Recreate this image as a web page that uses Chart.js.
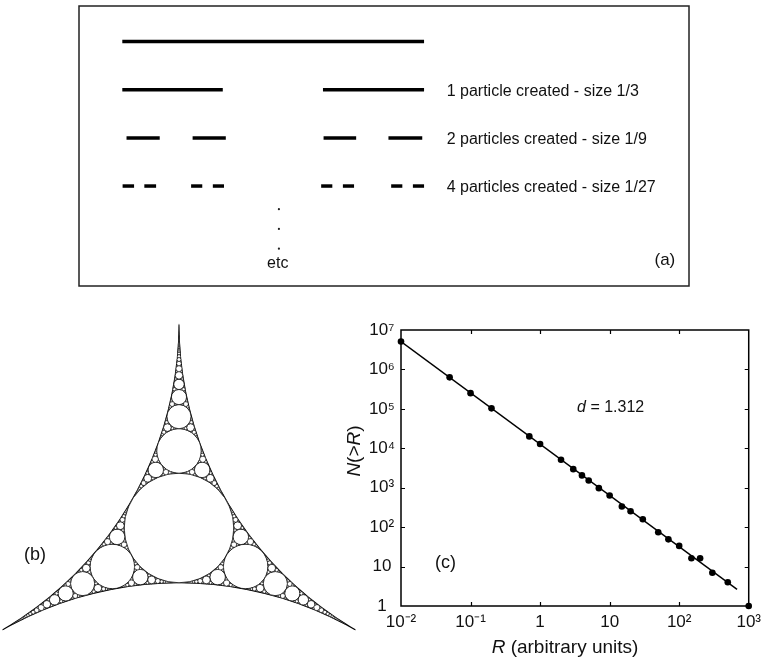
<!DOCTYPE html>
<html>
<head>
<meta charset="utf-8">
<script src="https://cdn.jsdelivr.net/npm/chart.js@4.4.1/dist/chart.umd.min.js"></script>
<style>
  html, body { margin: 0; padding: 0; background: #fff; }
  #wrap { position: relative; width: 767px; height: 659px; overflow: hidden; }
  canvas { position: absolute; }
  #cantor { left: 0; top: 0; }
  #gasket { left: 0; top: 290px; }
  #plot { left: 335px; top: 290px; }
</style>
</head>
<body>
<div id="wrap">
  <canvas id="cantor" width="767" height="290"></canvas>
  <canvas id="gasket" width="380" height="369"></canvas>
  <canvas id="plot" width="432" height="369"></canvas>
</div>
<script>
// ---------- panel (a): pieces left at each step, as fractions of the first bar
const cantorRows = [
  [[0, 1]],
  [[0, 0.333], [0.665, 1]],
  [[0.014, 0.124], [0.233, 0.343], [0.667, 0.775], [0.882, 0.994]],
  [[0.001, 0.039], [0.073, 0.112], [0.228, 0.265], [0.300, 0.337],
   [0.659, 0.696], [0.731, 0.768], [0.891, 0.928], [0.963, 1.0]]
];
const cantorLabels = ["", "1 particle created - size 1/3", "2 particles created - size 1/9", "4 particles created - size 1/27"];
const ellipsisX = 0.519;
const ellipsisY = [3.48, 3.89, 4.3];

// ---------- panel (b): three touching circles of radius 1, gasket in between
const gasketCenters = [[0, -2 / Math.sqrt(3)], [1, 1 / Math.sqrt(3)], [-1, 1 / Math.sqrt(3)]];
const gasketMinPx = 0.2;

// ---------- panel (c)
const rValues = [0.01, 0.05, 0.1, 0.2, 0.7, 1, 2, 3, 4, 5, 7, 10, 15, 20, 30, 50, 70, 100, 150, 200, 300, 500, 1000];
const nValues = [5.1e6, 6.3e5, 2.5e5, 1.03e5, 2.0e4, 1.28e4, 5100, 2960, 2050, 1530, 975, 635, 334, 254, 159, 74, 49, 33.4, 16.3, 16.3, 7.0, 4.0, 1];
const fitR = [0.01, 680];
const fitN = [5.1e6, 2.65];
const xTickValues = [0.01, 0.1, 1, 10, 100, 1000];
const xTickLabels = ["10⁻²", "10⁻¹", "1", "10", "10²", "10³"];
const yTickValues = [1, 10, 100, 1e3, 1e4, 1e5, 1e6, 1e7];
const yTickLabels = ["1", "10", "10²", "10³", "10⁴", "10⁵", "10⁶", "10⁷"];

const FONT = "'Liberation Sans', Arial, sans-serif";
Chart.defaults.font.family = FONT;
Chart.defaults.color = '#000';

// text with some italic pieces, e.g. "R (arbitrary units)"
function drawMixed(ctx, parts, x, y, size, align) {
  let total = 0;
  const widths = parts.map(p => {
    ctx.font = (p[1] ? 'italic ' : '') + size + 'px ' + FONT;
    const w = ctx.measureText(p[0]).width;
    total += w;
    return w;
  });
  let cx = align === 'center' ? x - total / 2 : x;
  ctx.textAlign = 'left';
  ctx.textBaseline = 'middle';
  parts.forEach((p, i) => {
    ctx.font = (p[1] ? 'italic ' : '') + size + 'px ' + FONT;
    ctx.fillText(p[0], cx, y);
    cx += widths[i];
  });
}

// ================= (a) =================
const cantorSets = [];
cantorRows.forEach((row, level) => {
  row.forEach(seg => {
    cantorSets.push({
      data: [{ x: seg[0], y: level }, { x: seg[1], y: level }],
      showLine: true,
      borderColor: '#000',
      borderWidth: 3.5,
      borderCapStyle: 'butt',
      pointRadius: 0
    });
  });
});
cantorSets.push({
  data: ellipsisY.map(v => ({ x: ellipsisX, y: v })),
  pointRadius: 1.1,
  backgroundColor: '#222',
  borderWidth: 0
});

const cantorText = {
  id: 'cantorText',
  beforeDatasetsDraw(chart) {
    const { ctx, chartArea: a } = chart;
    ctx.save();
    ctx.strokeStyle = '#222';
    ctx.lineWidth = 1.5;
    ctx.strokeRect(a.left, a.top, a.right - a.left, a.bottom - a.top);
    ctx.restore();
  },
  afterDraw(chart) {
    const { ctx, scales: { x, y } } = chart;
    ctx.save();
    ctx.fillStyle = '#111';
    ctx.font = '16px ' + FONT;
    ctx.textBaseline = 'middle';
    ctx.textAlign = 'left';
    cantorLabels.forEach((t, level) => {
      if (t) ctx.fillText(t, x.getPixelForValue(1.075), y.getPixelForValue(level) + 2);
    });
    ctx.textAlign = 'center';
    ctx.fillText('etc', x.getPixelForValue(0.515), y.getPixelForValue(4.62));
    ctx.font = '17px ' + FONT;
    ctx.fillText('(a)', x.getPixelForValue(1.798), y.getPixelForValue(4.55));
    ctx.restore();
  }
};

new Chart(document.getElementById('cantor'), {
  type: 'scatter',
  data: { datasets: cantorSets },
  options: {
    responsive: false,
    animation: false,
    devicePixelRatio: 1,
    events: [],
    layout: { padding: { left: 79, top: 6, right: 78, bottom: 3 } },
    plugins: { legend: { display: false }, tooltip: { enabled: false } },
    scales: {
      x: { type: 'linear', min: -0.1435, max: 1.878, display: false },
      y: { type: 'linear', min: -0.739, max: 5.076, reverse: true, display: false }
    }
  },
  plugins: [cantorText]
});

// ================= (b) =================
function flip(a, b, c, d) {
  const k = 2 * (a.k + b.k + c.k) - d.k;
  const x = (2 * (a.k * a.x + b.k * b.x + c.k * c.x) - d.k * d.x) / k;
  const y = (2 * (a.k * a.y + b.k * b.y + c.k * c.y) - d.k * d.y) / k;
  return { k, x, y };
}

const gasketDraw = {
  id: 'gasketDraw',
  afterDatasetsDraw(chart) {
    const { ctx, scales: { x, y } } = chart;
    const unit = x.getPixelForValue(1) - x.getPixelForValue(0);
    const outer = gasketCenters.map(c => ({ k: 1, x: c[0], y: c[1] }));
    const enclosing = { k: 3 - 2 * Math.sqrt(3), x: 0, y: 0 };

    const circles = [];
    function rec(a, b, c, d) {
      const e = flip(a, b, c, d);
      if (unit / e.k < gasketMinPx) return;
      circles.push(e);
      rec(a, b, e, c);
      rec(b, c, e, a);
      rec(a, c, e, b);
    }
    rec(outer[0], outer[1], outer[2], enclosing);

    ctx.save();
    // curved triangle between the three big circles
    const tips = [[0, 1], [1, 2], [2, 0]].map(([i, j]) => [
      (outer[i].x + outer[j].x) / 2, (outer[i].y + outer[j].y) / 2
    ]);
    ctx.beginPath();
    tips.forEach((t, i) => {
      const px = x.getPixelForValue(t[0]), py = y.getPixelForValue(t[1]);
      if (i === 0) ctx.moveTo(px, py); else ctx.lineTo(px, py);
    });
    ctx.closePath();
    ctx.fillStyle = '#000';
    ctx.fill();
    ctx.fillStyle = '#fff';
    outer.forEach(c => {
      ctx.beginPath();
      ctx.arc(x.getPixelForValue(c.x), y.getPixelForValue(c.y), unit / c.k - 0.5, 0, Math.PI * 2);
      ctx.fill();
    });

    ctx.strokeStyle = '#000';
    circles.forEach(c => {
      const r = unit / c.k;
      ctx.beginPath();
      ctx.arc(x.getPixelForValue(c.x), y.getPixelForValue(c.y), r, 0, Math.PI * 2);
      ctx.fill();
      ctx.lineWidth = r > 3 ? 0.7 : 0.35;
      ctx.stroke();
    });

    ctx.fillStyle = '#111';
    ctx.font = '18px ' + FONT;
    ctx.textAlign = 'center';
    ctx.textBaseline = 'middle';
    ctx.fillText('(b)', x.getPixelForValue(-0.407), y.getPixelForValue(-0.076));
    ctx.restore();
  }
};

new Chart(document.getElementById('gasket'), {
  type: 'scatter',
  data: { datasets: [{ data: [] }] },
  options: {
    responsive: false,
    animation: false,
    devicePixelRatio: 1,
    events: [],
    layout: { padding: 0 },
    plugins: { legend: { display: false }, tooltip: { enabled: false } },
    scales: {
      x: { type: 'linear', min: -0.5056, max: 0.5678, display: false },
      y: { type: 'linear', min: -0.370, max: 0.672, display: false }
    }
  },
  plugins: [gasketDraw]
});

// ================= (c) =================
const plotFrame = {
  id: 'plotFrame',
  beforeDatasetsDraw(chart) {
    const { ctx, chartArea: a, scales: { x, y } } = chart;
    ctx.save();
    ctx.strokeStyle = '#000';
    ctx.lineWidth = 1.5;
    ctx.strokeRect(a.left, a.top, a.right - a.left, a.bottom - a.top);
    ctx.lineWidth = 1.2;
    ctx.beginPath();
    xTickValues.slice(1, -1).forEach(v => {
      const p = Math.round(x.getPixelForValue(v)) + 0.5;
      ctx.moveTo(p, a.bottom); ctx.lineTo(p, a.bottom - 4);
      ctx.moveTo(p, a.top); ctx.lineTo(p, a.top + 4);
    });
    yTickValues.slice(1, -1).forEach(v => {
      const p = Math.round(y.getPixelForValue(v)) + 0.5;
      ctx.moveTo(a.left, p); ctx.lineTo(a.left + 4, p);
      ctx.moveTo(a.right, p); ctx.lineTo(a.right - 4, p);
    });
    ctx.stroke();
    ctx.restore();
  },
  afterDraw(chart) {
    const { ctx, scales: { x, y } } = chart;
    ctx.save();
    ctx.fillStyle = '#111';
    drawMixed(ctx, [['d', true], [' = 1.312', false]], x.getPixelForValue(3.4), y.getPixelForValue(1.1e5), 16, 'left');
    drawMixed(ctx, [['(c)', false]], x.getPixelForValue(0.0438), y.getPixelForValue(12.1), 18, 'center');
    drawMixed(ctx, [['R', true], [' (arbitrary units)', false]], 230, 358, 19, 'center');
    ctx.translate(20, 161);
    ctx.rotate(-Math.PI / 2);
    drawMixed(ctx, [['N', true], ['(>', false], ['R', true], [')', false]], 0, 0, 19, 'center');
    ctx.restore();
  }
};

new Chart(document.getElementById('plot'), {
  type: 'scatter',
  data: {
    datasets: [
      {
        data: fitR.map((r, i) => ({ x: r, y: fitN[i] })),
        showLine: true,
        borderColor: '#000',
        borderWidth: 1.4,
        pointRadius: 0
      },
      {
        data: rValues.map((r, i) => ({ x: r, y: nValues[i] })),
        pointRadius: 3.3,
        backgroundColor: '#000',
        borderColor: '#000',
        borderWidth: 0,
        clip: false
      }
    ]
  },
  options: {
    responsive: false,
    animation: false,
    devicePixelRatio: 1,
    events: [],
    layout: { padding: { top: 40, right: 15, left: 0, bottom: 0 } },
    plugins: { legend: { display: false }, tooltip: { enabled: false } },
    scales: {
      x: {
        type: 'logarithmic',
        min: 0.01,
        max: 1000,
        grid: { display: false, drawTicks: false },
        border: { display: false },
        afterBuildTicks: s => { s.ticks = xTickValues.map(v => ({ value: v })); },
        afterFit: s => { s.height = 53; },
        ticks: {
          autoSkip: false,
          maxRotation: 0,
          padding: 6,
          font: { size: 17 },
          color: '#111',
          callback: (v, i) => xTickLabels[i]
        }
      },
      y: {
        type: 'logarithmic',
        min: 1,
        max: 1e7,
        grid: { display: false, drawTicks: false },
        border: { display: false },
        afterBuildTicks: s => { s.ticks = yTickValues.map(v => ({ value: v })); },
        afterFit: s => { s.width = 66; },
        ticks: {
          autoSkip: false,
          padding: 6,
          crossAlign: 'center',
          font: { size: 17 },
          color: '#111',
          callback: (v, i) => yTickLabels[i]
        }
      }
    }
  },
  plugins: [plotFrame]
});
</script>
</body>
</html>
